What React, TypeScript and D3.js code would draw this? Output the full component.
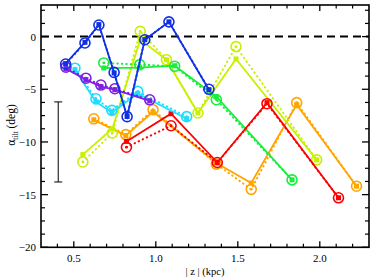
import React from "react";
import * as d3 from "d3";

const W = 374, H = 280;
const X_DOMAIN = [0.3, 2.3];
const Y_DOMAIN = [-20, 3];
const X_MAJOR = [0.5, 1.0, 1.5, 2.0];
const X_LABELS = ["0.5", "1.0", "1.5", "2.0"];
const Y_MAJOR = [0, -5, -10, -15, -20];
const Y_LABELS = ["0", "\u22125", "\u221210", "\u221215", "\u221220"];

// series: z positions, solid-line values (squares), dotted-line values (circles)
const blueZ = [0.45, 0.568, 0.653, 0.746, 0.825, 0.933, 1.08, 1.324];
const blueSolid = [-2.57, -0.54, 1.14, -3.45, -7.58, -0.29, 1.4, -5.04];
const blueDotted = [-2.6, -0.6, 1.1, -3.4, -7.6, -0.3, 1.4, -5.0];

const purpleZ = [0.452, 0.574, 0.665, 0.75, 0.963];
const purpleSolid = [-3.04, -4.09, -4.75, -5.04, -6.1];
const purpleDotted = [-2.9, -3.95, -4.6, -4.95, -6.0];

const cyanZ = [0.507, 0.635, 0.732, 0.89, 1.188];
const cyanSolid = [-3.14, -6.2, -7.2, -5.4, -7.8];
const cyanDotted = [-3.0, -5.9, -7.0, -5.2, -7.6];

const greenZ = [0.683, 0.902, 1.115, 1.369, 1.831];
const greenSolid = [-2.98, -2.95, -2.76, -5.7, -13.6];
const greenDotted = [-2.5, -2.66, -2.82, -5.99, -13.6];

const limeZ = [0.555, 0.735, 0.905, 1.065, 1.257, 1.489, 1.981];
const limeSolid = [-11.2, -8.75, -0.29, -2.19, -7.25, -2.12, -11.7];
const limeDotted = [-11.9, -9.15, 0.5, -2.19, -7.25, -0.95, -11.7];

const orangeZ = [0.622, 0.817, 0.983, 1.369, 1.582, 1.859, 2.224];
const orangeSolid = [-7.9, -9.4, -7.13, -12.0, -13.9, -6.46, -14.2];
const orangeDotted = [-7.8, -9.3, -6.94, -12.1, -14.5, -6.27, -14.2];

const redZ = [0.821, 1.093, 1.375, 1.678, 2.114];
const redSolid = [-9.95, -7.32, -11.95, -6.27, -15.3];
const redDotted = [-10.5, -8.46, -11.95, -6.37, -15.3];

const errZ = 0.405;
const errCenter = -10;
const errHalf = 3.8;

const SERIES = [
  { color: "#ffa500", z: orangeZ, solid: orangeSolid, dotted: orangeDotted },
  { color: "#c8f000", z: limeZ, solid: limeSolid, dotted: limeDotted },
  { color: "#1aee3c", z: greenZ, solid: greenSolid, dotted: greenDotted },
  { color: "#ff0000", z: redZ, solid: redSolid, dotted: redDotted },
  { color: "#20dcff", z: cyanZ, solid: cyanSolid, dotted: cyanDotted },
  { color: "#8020e0", z: purpleZ, solid: purpleSolid, dotted: purpleDotted },
  { color: "#1030e6", z: blueZ, solid: blueSolid, dotted: blueDotted },
];

export default function App() {
  const L = 41, R = 369, T = 5, B = 247.3;
  const x = d3.scaleLinear().domain(X_DOMAIN).range([L, R]);
  const y = d3.scaleLinear().domain(Y_DOMAIN).range([B, T]);
  const line = d3.line<[number, number]>().x((d) => x(d[0])).y((d) => y(d[1]));

  const xMinor = d3.range(0.4, 2.25, 0.1).map((v) => Math.round(v * 10) / 10).filter((v) => !X_MAJOR.some((m) => Math.abs(m - v) < 1e-6));
  const yMinor = d3.range(-18.75, 3, 1.25).filter((v) => !Y_MAJOR.some((m) => Math.abs(m - v) < 1e-6));
  const font = "'Liberation Serif', 'Times New Roman', serif";

  return (
    <svg width={W} height={H} style={{ display: "block", position: "absolute", left: 0, top: 0 }}>
      <rect width={W} height={H} fill="white" />
      <line x1={L} x2={R} y1={y(0)} y2={y(0)} stroke="black" strokeWidth={2} strokeDasharray="8,5" />
      {SERIES.map((s, i) => {
        const sp = s.z.map((z, k) => [z, s.solid[k]] as [number, number]);
        const dp = s.z.map((z, k) => [z, s.dotted[k]] as [number, number]);
        return (
          <g key={i}>
            <path d={line(dp) || ""} fill="none" stroke={s.color} strokeWidth={2} strokeDasharray="0.5,4" strokeLinecap="round" />
            <path d={line(sp) || ""} fill="none" stroke={s.color} strokeWidth={1.8} />
            {sp.map((p, k) => (
              <rect key={"s" + k} x={x(p[0]) - 2.5} y={y(p[1]) - 2.5} width={5} height={5} fill={s.color} />
            ))}
            {dp.map((p, k) => (
              <g key={"c" + k}>
                <circle cx={x(p[0])} cy={y(p[1])} r={5} fill="none" stroke={s.color} strokeWidth={1.6} />
                <circle cx={x(p[0])} cy={y(p[1])} r={1.4} fill={s.color} />
              </g>
            ))}
          </g>
        );
      })}
      {/* error bar */}
      <g stroke="black" strokeWidth={1}>
        <line x1={x(errZ)} x2={x(errZ)} y1={y(errCenter + errHalf)} y2={y(errCenter - errHalf)} />
        <line x1={x(errZ) - 4} x2={x(errZ) + 4} y1={y(errCenter + errHalf)} y2={y(errCenter + errHalf)} />
        <line x1={x(errZ) - 4} x2={x(errZ) + 4} y1={y(errCenter - errHalf)} y2={y(errCenter - errHalf)} />
      </g>
      {/* frame & ticks */}
      <g stroke="black">
        {X_MAJOR.map((v) => (
          <g key={"xm" + v}>
            <line x1={x(v)} x2={x(v)} y1={B} y2={B - 6} strokeWidth={1.3} />
            <line x1={x(v)} x2={x(v)} y1={T} y2={T + 6} strokeWidth={1.3} />
          </g>
        ))}
        {xMinor.map((v) => (
          <g key={"xn" + v}>
            <line x1={x(v)} x2={x(v)} y1={B} y2={B - 3.5} strokeWidth={1.2} />
            <line x1={x(v)} x2={x(v)} y1={T} y2={T + 3.5} strokeWidth={1.2} />
          </g>
        ))}
        {Y_MAJOR.map((v) => (
          <g key={"ym" + v}>
            <line x1={L} x2={L + 7} y1={y(v)} y2={y(v)} strokeWidth={1.3} />
            <line x1={R} x2={R - 7} y1={y(v)} y2={y(v)} strokeWidth={1.3} />
          </g>
        ))}
        {yMinor.map((v) => (
          <g key={"yn" + v}>
            <line x1={L} x2={L + 4} y1={y(v)} y2={y(v)} strokeWidth={1.2} />
            <line x1={R} x2={R - 4} y1={y(v)} y2={y(v)} strokeWidth={1.2} />
          </g>
        ))}
        <rect x={L} y={T} width={R - L} height={B - T} fill="none" strokeWidth={1.6} />
      </g>
      <g fontFamily={font} fontSize={11} fill="black">
        {X_MAJOR.map((v, i) => (
          <text key={"xl" + v} x={x(v)} y={262} textAnchor="middle">{X_LABELS[i]}</text>
        ))}
        {Y_MAJOR.map((v, i) => (
          <text key={"yl" + v} x={36} y={y(v) + 4} textAnchor="end">{Y_LABELS[i]}</text>
        ))}
        <text x={205} y={275} textAnchor="middle" fontSize={10.5}>| z |  (kpc)</text>
        <text transform={`translate(15,${125}) rotate(-90)`} textAnchor="middle" fontSize={11.5}>
          <tspan>α</tspan>
          <tspan fontSize={7.5} dy={3}>tilt</tspan>
          <tspan dy={-3}> (deg)</tspan>
        </text>
      </g>
    </svg>
  );
}
